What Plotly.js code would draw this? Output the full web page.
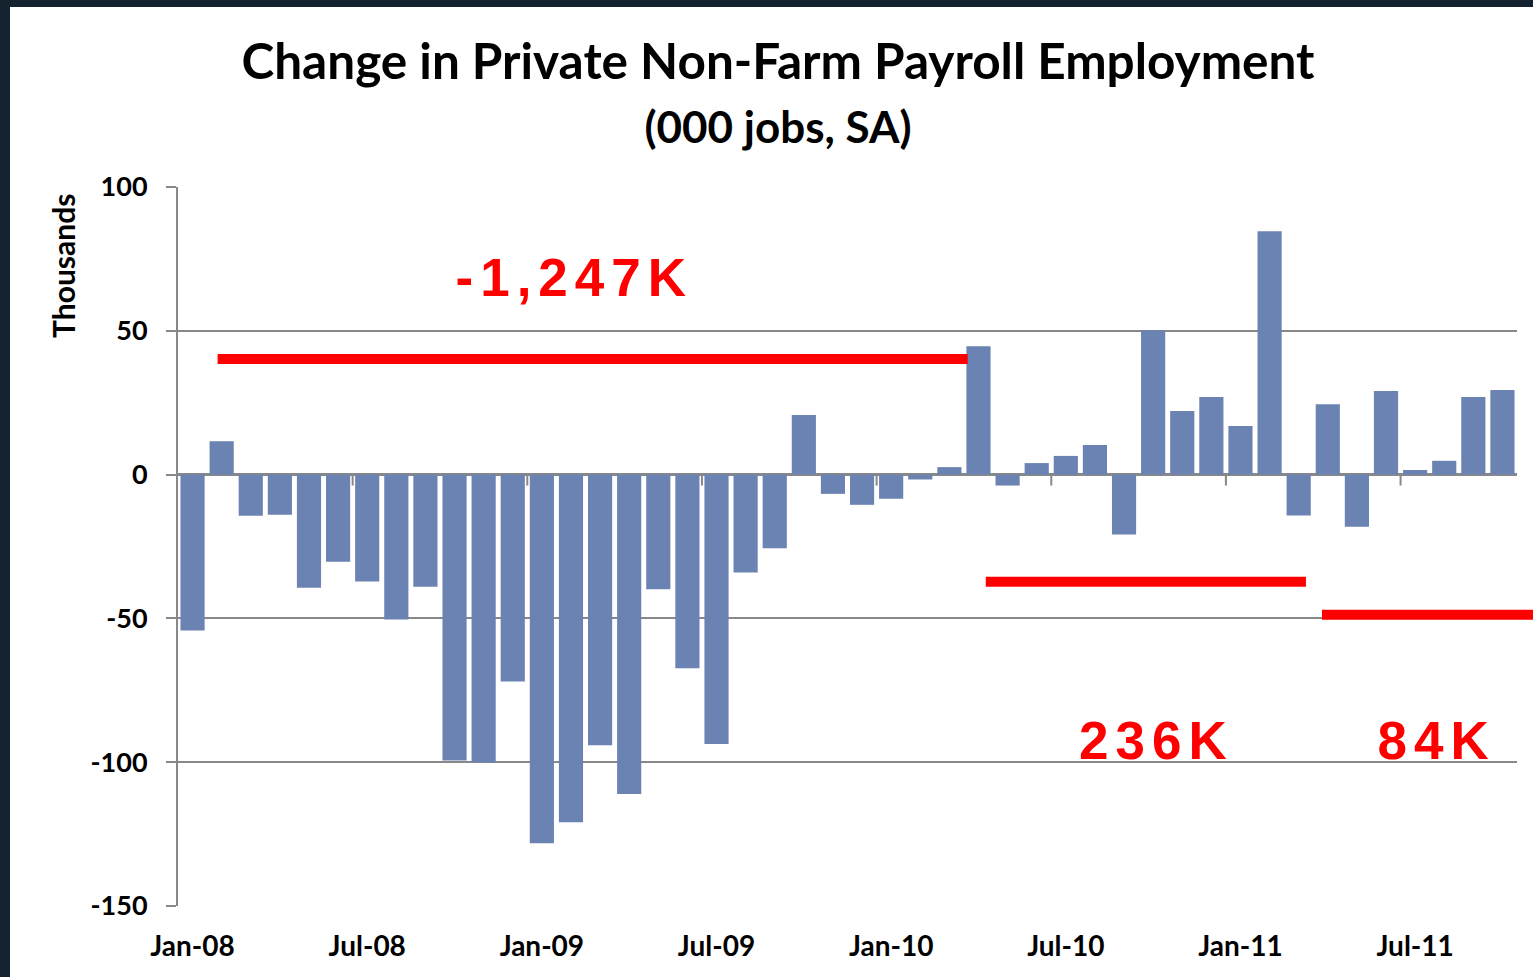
<!DOCTYPE html>
<html>
<head>
<meta charset="utf-8">
<script src="https://cdn.plot.ly/plotly-3.0.1.min.js"></script>
<style>
  html, body { margin: 0; padding: 0; background: #13222e; width: 1533px; height: 977px; overflow: hidden; }
  #chart { position: absolute; left: 10px; top: 7px; width: 1523px; height: 970px; background: #ffffff; }
</style>
</head>
<body>
<div id="chart"></div>
<script>
// Categories (months)
const months = [
  "Jan-08","Feb-08","Mar-08","Apr-08","May-08","Jun-08","Jul-08","Aug-08","Sep-08","Oct-08","Nov-08","Dec-08",
  "Jan-09","Feb-09","Mar-09","Apr-09","May-09","Jun-09","Jul-09","Aug-09","Sep-09","Oct-09","Nov-09","Dec-09",
  "Jan-10","Feb-10","Mar-10","Apr-10","May-10","Jun-10","Jul-10","Aug-10","Sep-10","Oct-10","Nov-10","Dec-10",
  "Jan-11","Feb-11","Mar-11","Apr-11","May-11","Jun-11","Jul-11","Aug-11","Sep-11","Oct-11"
];
// Monthly change (thousands of jobs)
const jobChange = [
  -54.2, 11.6, -14.3, -14.0, -39.3, -30.3, -37.2, -50.4, -39.0, -99.4, -100.1, -71.9,
  -128.2, -120.9, -94.1, -111.1, -39.9, -67.3, -93.7, -34.0, -25.6, 20.7, -6.7, -10.5,
  -8.4, -1.7, 2.6, 44.6, -3.8, 4.0, 6.5, 10.3, -20.8, 50.2, 22.1, 27.0,
  16.9, 84.6, -14.2, 24.5, -18.1, 29.1, 1.6, 4.8, 27.0, 29.4
];
// Axis tick labels
const xTickLabels = ["Jan-08","Jul-08","Jan-09","Jul-09","Jan-10","Jul-10","Jan-11","Jul-11"];
const yTickValues = [-150, -100, -50, 0, 50, 100];
const yTickText = ["-150", "-100", "-50", "0", "50", "100"];

// Period annotations (red bars and labels)
const periodLabels = ["-1,247K", "236K", "84K"];
const periodLevel = [40.2, -37.3, -48.7];
const periodStart = [0.86, 27.25, 38.8];
const periodEnd = [26.63, 38.25, 46.6];
const periodLabelX = [13.12, 33.12, 42.75];
const periodLabelY = [68.5, -92.5, -92.5];

const GREY = "#888888";
const FONT = "Lato, 'Open Sans', sans-serif";
const YMIN = -150, YMAX = 100;

const trace = {
  type: "bar",
  x: months,
  y: jobChange,
  marker: { color: "#6A83B3" },
  hoverinfo: "x+y"
};

const shapes = [];
// small boundary ticks on the zero line every six months
months.forEach((m, i) => {
  if (i > 0 && xTickLabels.indexOf(m) >= 0) {
    shapes.push({ type: "line", xref: "x", yref: "y", x0: i - 0.5, x1: i - 0.5, y0: 0, y1: -3.8,
      line: { color: GREY, width: 2 }, layer: "below" });
  }
});
// red period bars (paper coordinates so the last one can run past the plot edge)
periodLevel.forEach((lv, i) => {
  const yp = (lv - YMIN) / (YMAX - YMIN);
  shapes.push({ type: "line", xref: "paper", yref: "paper",
    x0: (periodStart[i] + 0.5) / months.length, x1: (periodEnd[i] + 0.5) / months.length,
    y0: yp, y1: yp,
    line: { color: "#FF0000", width: 10 }, layer: "above" });
});

const annotations = periodLabels.map((t, i) => ({
  text: t, xref: "x", yref: "y", x: periodLabelX[i], y: periodLabelY[i],
  showarrow: false, xanchor: "center", yanchor: "middle",
  font: { family: "'Liberation Sans', Arial, sans-serif", size: 53, color: "#FF0000", weight: 700 }
}));
annotations.push({
  text: "Thousands", xref: "paper", yref: "paper", x: -0.0855, y: 0.8895,
  textangle: -90, showarrow: false, xanchor: "center", yanchor: "middle",
  font: { family: FONT, size: 30, color: "#000000", weight: 700 }
});

const layout = {
  width: 1523, height: 970,
  margin: { l: 168, r: 16, t: 180, b: 71 },
  paper_bgcolor: "#ffffff",
  plot_bgcolor: "#ffffff",
  showlegend: false,
  bargap: 0.17,
  title: {
    text: "Change in Private Non-Farm Payroll Employment<br><span style='font-size:44px'>(000 jobs, SA)</span>",
    x: 768 / 1523, xanchor: "center",
    y: 1 - 72 / 970, yanchor: "top",
    font: { family: FONT, size: 49.5, color: "#000000", weight: 700 }
  },
  xaxis: {
    type: "category",
    range: [-0.5, months.length - 0.5],
    tickmode: "array",
    tickvals: xTickLabels,
    ticktext: xTickLabels,
    ticks: "",
    showgrid: false,
    showline: false,
    zeroline: false,
    ticklabelstandoff: 21,
    tickfont: { family: FONT, size: 28, color: "#000000", weight: 700 },
    fixedrange: true
  },
  yaxis: {
    range: [YMIN, YMAX],
    tickmode: "array",
    tickvals: yTickValues,
    ticktext: yTickText,
    ticks: "outside",
    ticklen: 10,
    tickwidth: 1.5,
    tickcolor: GREY,
    showline: true,
    linecolor: GREY,
    linewidth: 2,
    showgrid: true,
    gridcolor: GREY,
    gridwidth: 1.5,
    zeroline: true,
    zerolinecolor: GREY,
    zerolinewidth: 2.5,
    ticklabelstandoff: 13,
    tickfont: { family: FONT, size: 27, color: "#000000", weight: 700 },
    fixedrange: true
  },
  shapes: shapes,
  annotations: annotations
};

Plotly.newPlot("chart", [trace], layout, { displayModeBar: false }).then(() => {
  document.querySelectorAll("#chart .annotation-text").forEach(el => {
    if (periodLabels.indexOf(el.textContent) >= 0) {
      el.style.letterSpacing = "7px";
    }
  });
});
</script>
</body>
</html>
